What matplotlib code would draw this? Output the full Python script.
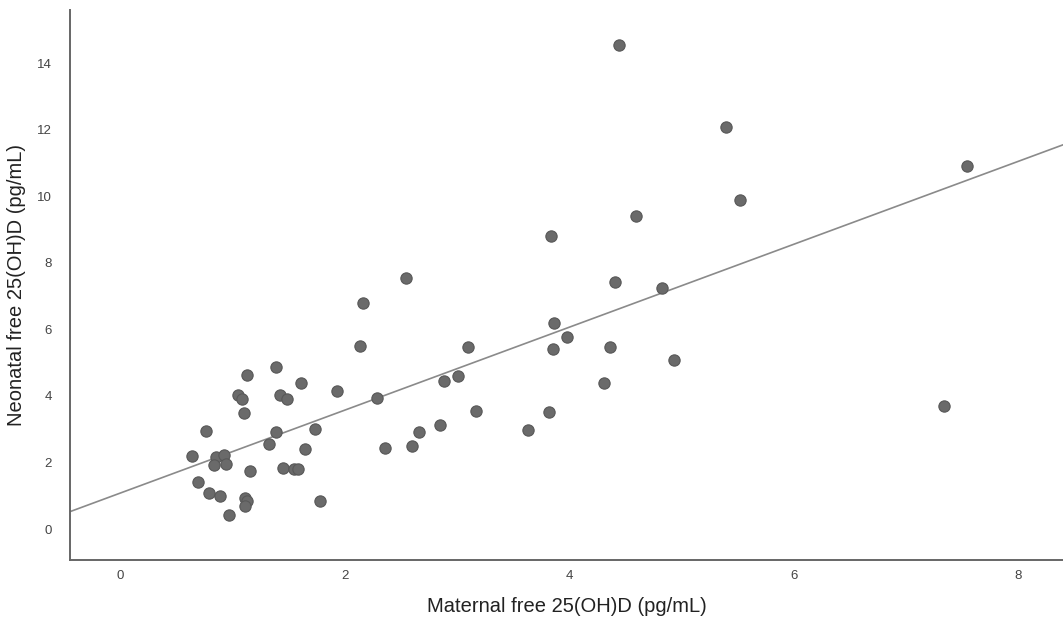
import matplotlib
matplotlib.use("Agg")
import matplotlib.pyplot as plt
import numpy as np

plt.rcParams['font.family'] = ['Liberation Sans', 'DejaVu Sans']

# maternal free 25(OH)D (x) vs neonatal free 25(OH)D (y), pg/mL
maternal = np.array([
    2.13, 1.13, 1.39, 1.61, 1.93, 1.045, 1.08, 1.425, 1.48, 1.10,
    0.76, 1.39, 1.73, 1.32, 1.64, 0.64, 0.85, 0.92, 0.83, 0.94,
    1.15, 1.45, 1.55, 1.58, 0.69, 0.79, 0.89, 1.11, 1.125, 1.11,
    1.78, 0.97,
    2.54, 2.16, 3.10, 3.86, 3.98, 3.85, 4.41, 4.36, 4.31, 2.29,
    2.88, 3.01, 3.17, 3.82, 3.63, 2.85, 2.66, 2.60, 2.36,
    4.44, 5.40, 5.52, 4.59, 3.84, 4.83, 4.93,
    7.54, 7.34])
neonatal = np.array([
    5.50, 4.62, 4.86, 4.38, 4.14, 4.02, 3.90, 4.02, 3.90, 3.49,
    2.94, 2.92, 3.02, 2.57, 2.41, 2.19, 2.16, 2.22, 1.93, 1.96,
    1.73, 1.84, 1.79, 1.79, 1.42, 1.08, 0.99, 0.94, 0.83, 0.69,
    0.83, 0.41,
    7.55, 6.78, 5.47, 6.20, 5.77, 5.41, 7.41, 5.46, 4.38, 3.95,
    4.45, 4.61, 3.56, 3.52, 2.99, 3.13, 2.92, 2.51, 2.43,
    14.55, 12.08, 9.89, 9.40, 8.80, 7.24, 5.08,
    10.91, 3.70])

xticks = [0, 2, 4, 6, 8]
yticks = [0, 2, 4, 6, 8, 10, 12, 14]

fig = plt.figure(figsize=(10.63, 6.23), dpi=100)
ax = fig.add_axes([0.0659, 0.1011, 0.9341, 0.883])

ax.scatter(maternal, neonatal, s=66, facecolor='#6a6a6a', edgecolor='#585858',
           linewidth=0.8, zorder=3)

# linear fit line
slope, intercept = np.polyfit(maternal, neonatal, 1)
xl = np.array([-0.45, 8.4])
ax.plot(xl, intercept + slope * xl, color='#8a8a8a', linewidth=1.2, zorder=2)

ax.set_xlim(-0.45, 8.4)
ax.set_ylim(-0.93, 15.6)
ax.set_xticks(xticks)
ax.set_yticks(yticks)
ax.tick_params(length=0, labelsize=9.5, labelcolor='#444444')
ax.tick_params(axis='x', pad=7)
ax.tick_params(axis='y', pad=13)

for s in ['top', 'right']:
    ax.spines[s].set_visible(False)
for s in ['left', 'bottom']:
    ax.spines[s].set_color('#666666')
    ax.spines[s].set_linewidth(1.4)

ax.set_xlabel('Maternal free 25(OH)D (pg/mL)', fontsize=14.5, color='#222222', labelpad=11)
ax.set_ylabel('Neonatal free 25(OH)D (pg/mL)', fontsize=14.5, color='#222222', labelpad=8)

fig.savefig('out.png', dpi=100)
